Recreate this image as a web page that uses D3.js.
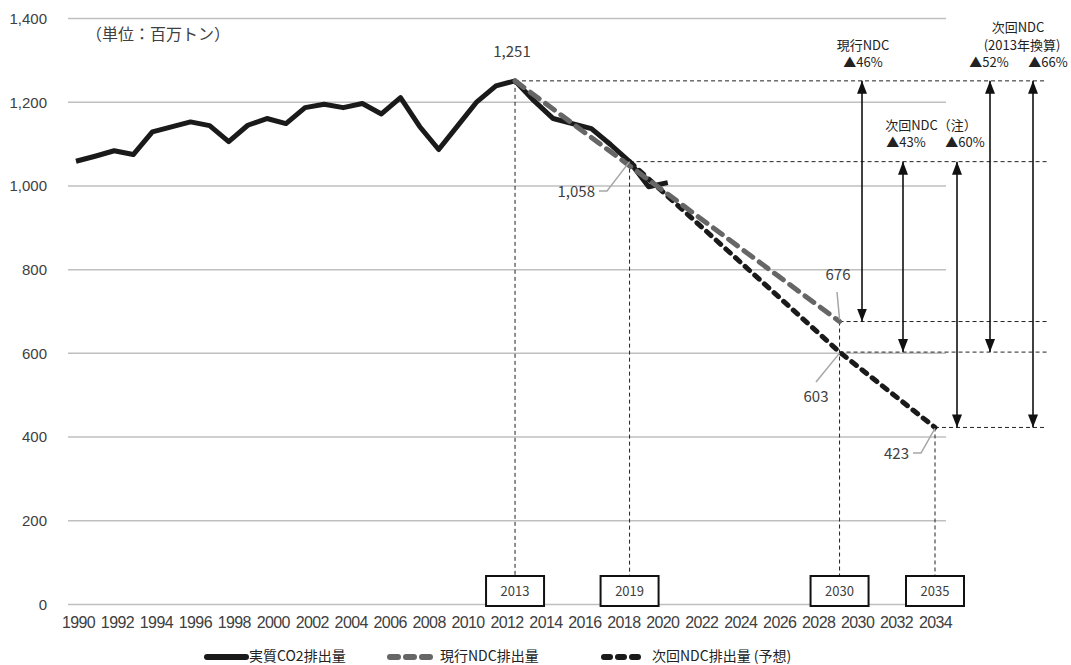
<html>
<head>
<meta charset="utf-8">
<style>
  body { margin: 0; background: #fff; }
  svg { font-family: "Noto Sans CJK JP", "Noto Sans", sans-serif; }
  .grid line { stroke: #bfbfbf; stroke-width: 1.5; }
  .lbl { fill: #404040; }
</style>
</head>
<body>
<script src="https://cdn.jsdelivr.net/npm/d3@7"></script>
<script>
// actual emissions 1990-2021 (million t)
var years = d3.range(1990, 2022);
var actual = [1059,1071,1084,1075,1129,1141,1153,1144,1106,1145,1161,1149,1187,1195,1187,1197,1172,1211,1142,1087,1144,1201,1239,1251,1203,1161,1149,1137,1099,1058,998,1008];

// current NDC path and next NDC path
var curYears = [2013, 2030], curVals = [1251, 676];
var nextYears = [2019, 2030, 2035], nextVals = [1058, 603, 423];

// axis labels
var tickYears = d3.range(1990, 2035);
var yTicks = [0, 200, 400, 600, 800, 1000, 1200, 1400];

// boxed years and the level the dashed guide starts from
var boxYears = [2013, 2019, 2030, 2035];
var boxVals = [1251, 1058, 676, 423];

// horizontal guides: start year, level
var guideYears = [2013, 2019, 2030, 2030, 2035];
var guideVals = [1251, 1058, 676, 603, 423];

// reduction arrows
var arrows = [
  {x: 862, from: 1251, to: 676},
  {x: 903, from: 1058, to: 603},
  {x: 957, from: 1058, to: 423},
  {x: 990, from: 1251, to: 603},
  {x: 1033, from: 1251, to: 423}
];

var W = 1071, H = 665;
var svg = d3.select("body").append("svg").attr("width", W).attr("height", H);

var defs = svg.append("defs");
defs.append("marker").attr("id", "ah").attr("viewBox", "0 0 13 10")
  .attr("refX", 13).attr("refY", 5).attr("markerWidth", 13).attr("markerHeight", 10)
  .attr("markerUnits", "userSpaceOnUse").attr("orient", "auto-start-reverse")
  .append("path").attr("d", "M0,0 L13,5 L0,10 Z").attr("fill", "#111");

var y = d3.scaleLinear().domain([0, 1400]).range([604.5, 18.5]);
var xTick = d3.scalePoint().domain(tickYears).range([78, 935]);
var x = d3.scaleLinear().domain([1990, 2035]).range([76, 935]);

// grid
svg.append("g").attr("class", "grid").selectAll("line").data(yTicks).enter()
  .append("line").attr("x1", 68).attr("x2", 946)
  .attr("y1", function(d){ return y(d); }).attr("y2", function(d){ return y(d); });

// y labels
var yAxis = d3.axisLeft(y).tickValues(yTicks).tickSize(0).tickPadding(0)
  .tickFormat(d3.format(","));
var gy = svg.append("g").attr("transform", "translate(47,0)").call(yAxis);
gy.select(".domain").remove();
gy.selectAll("text").attr("class", "lbl").style("font-size", "15px")
  .style("font-family", "inherit");

// x labels
var xAxis = d3.axisBottom(xTick).tickValues(tickYears.filter(function(d){ return d % 2 === 0; }))
  .tickSize(0).tickPadding(0);
var gx = svg.append("g").attr("transform", "translate(0,617)").call(xAxis);
gx.select(".domain").remove();
gx.selectAll("text").attr("class", "lbl").style("font-size", "16px")
  .style("font-family", "inherit").attr("letter-spacing", "-0.6");

// unit label
svg.append("text").attr("class", "lbl").attr("x", 86).attr("y", 40)
  .style("font-size", "16px").text("（単位：百万トン）");

// guides
var dash = "4,3";
svg.selectAll(".hguide").data(guideYears).enter().append("line")
  .attr("x1", function(d){ return x(d); }).attr("x2", 1047)
  .attr("y1", function(d, i){ return y(guideVals[i]); })
  .attr("y2", function(d, i){ return y(guideVals[i]); })
  .attr("stroke", "#222").attr("stroke-width", 1).attr("stroke-dasharray", dash);

svg.selectAll(".vguide").data(boxYears).enter().append("line")
  .attr("x1", function(d){ return x(d); }).attr("x2", function(d){ return x(d); })
  .attr("y1", function(d, i){ return y(boxVals[i]); }).attr("y2", 576)
  .attr("stroke", "#222").attr("stroke-width", 1).attr("stroke-dasharray", dash);

// lines
var line = d3.line().x(function(d){ return x(d[0]); }).y(function(d){ return y(d[1]); });

svg.append("path").datum(nextYears.map(function(d, i){ return [d, nextVals[i]]; }))
  .attr("d", line).attr("fill", "none").attr("stroke", "#1a1a1a")
  .attr("stroke-width", 5).attr("stroke-dasharray", "6,7").attr("stroke-linecap", "round");

svg.append("path").datum(years.map(function(d, i){ return [d, actual[i]]; }))
  .attr("d", line).attr("fill", "none").attr("stroke", "#1a1a1a")
  .attr("stroke-width", 5).attr("stroke-linejoin", "round");

svg.append("path").datum(curYears.map(function(d, i){ return [d, curVals[i]]; }))
  .attr("d", line).attr("fill", "none").attr("stroke", "#666")
  .attr("stroke-width", 5).attr("stroke-dasharray", "11,8").attr("stroke-linecap", "round");

// boxes
var bx = svg.selectAll(".box").data(boxYears).enter().append("g");
bx.append("rect").attr("x", function(d){ return x(d) - 29; }).attr("y", 576)
  .attr("width", 58).attr("height", 30).attr("fill", "#fff")
  .attr("stroke", "#111").attr("stroke-width", 2);
bx.append("text").attr("class", "lbl").attr("x", function(d){ return x(d); }).attr("y", 596)
  .attr("text-anchor", "middle").style("font-size", "13px").text(function(d){ return d; });

// value labels with leaders
var gray = "#a6a6a6";
svg.append("text").attr("class", "lbl").attr("x", x(2013) - 3).attr("y", 57)
  .attr("text-anchor", "middle").style("font-size", "15px").text("1,251");

svg.append("text").attr("class", "lbl").attr("x", 595).attr("y", 197)
  .attr("text-anchor", "end").style("font-size", "15px").text("1,058");
svg.append("polyline").attr("points", [[599,191],[607,191],[x(2019), y(1058)]].join(" "))
  .attr("fill", "none").attr("stroke", gray).attr("stroke-width", 1.5);

svg.append("text").attr("class", "lbl").attr("x", 838).attr("y", 280)
  .attr("text-anchor", "middle").style("font-size", "15px").text("676");
svg.append("line").attr("x1", 837).attr("y1", 292).attr("x2", x(2030)).attr("y2", y(676) - 2)
  .attr("stroke", gray).attr("stroke-width", 1.5);

svg.append("text").attr("class", "lbl").attr("x", 816).attr("y", 402)
  .attr("text-anchor", "middle").style("font-size", "15px").text("603");
svg.append("line").attr("x1", 816).attr("y1", 382).attr("x2", x(2030)).attr("y2", y(603) + 1)
  .attr("stroke", gray).attr("stroke-width", 1.5);

svg.append("text").attr("class", "lbl").attr("x", 909).attr("y", 459)
  .attr("text-anchor", "end").style("font-size", "15px").text("423");
svg.append("polyline").attr("points", [[913,453],[921,453],[x(2035), y(423) + 1]].join(" "))
  .attr("fill", "none").attr("stroke", gray).attr("stroke-width", 1.5);

// arrows
svg.selectAll(".arr").data(arrows).enter().append("line")
  .attr("x1", function(d){ return d.x; }).attr("x2", function(d){ return d.x; })
  .attr("y1", function(d){ return y(d.from); }).attr("y2", function(d){ return y(d.to); })
  .attr("stroke", "#111").attr("stroke-width", 1.6)
  .attr("marker-start", "url(#ah)").attr("marker-end", "url(#ah)");

// arrow captions
var caps = [
  {x: 863, y: 50, t: "現行NDC"},
  {x: 863, y: 67, t: "▲46%"},
  {x: 931, y: 130, t: "次回NDC（注）"},
  {x: 906, y: 147, t: "▲43%"},
  {x: 965, y: 147, t: "▲60%"},
  {x: 1018, y: 32, t: "次回NDC"},
  {x: 1022, y: 50, t: "(2013年換算)"},
  {x: 989, y: 67, t: "▲52%"},
  {x: 1048, y: 67, t: "▲66%"}
];
svg.selectAll(".cap").data(caps).enter().append("text").attr("class", "lbl")
  .attr("x", function(d){ return d.x; }).attr("y", function(d){ return d.y; })
  .attr("text-anchor", "middle").style("font-size", "13px").style("fill", "#222")
  .text(function(d){ return d.t; });

// legend
var lg = svg.append("g");
lg.append("line").attr("x1", 207).attr("x2", 246).attr("y1", 657).attr("y2", 657)
  .attr("stroke", "#1a1a1a").attr("stroke-width", 6).attr("stroke-linecap", "round");
lg.append("text").attr("class", "lbl").attr("x", 249).attr("y", 661).style("font-size", "14px")
  .style("fill", "#222").text("実質CO2排出量");
lg.append("line").attr("x1", 390).attr("x2", 436).attr("y1", 657).attr("y2", 657)
  .attr("stroke", "#666").attr("stroke-width", 6).attr("stroke-linecap", "round")
  .attr("stroke-dasharray", "8,8");
lg.append("text").attr("class", "lbl").attr("x", 440).attr("y", 661).style("font-size", "14px")
  .style("fill", "#222").text("現行NDC排出量");
lg.append("line").attr("x1", 604).attr("x2", 640).attr("y1", 657).attr("y2", 657)
  .attr("stroke", "#1a1a1a").attr("stroke-width", 6).attr("stroke-linecap", "round")
  .attr("stroke-dasharray", "6,8");
lg.append("text").attr("class", "lbl").attr("x", 652).attr("y", 661).style("font-size", "14px")
  .style("fill", "#222").text("次回NDC排出量 (予想)");
</script>
</body>
</html>
